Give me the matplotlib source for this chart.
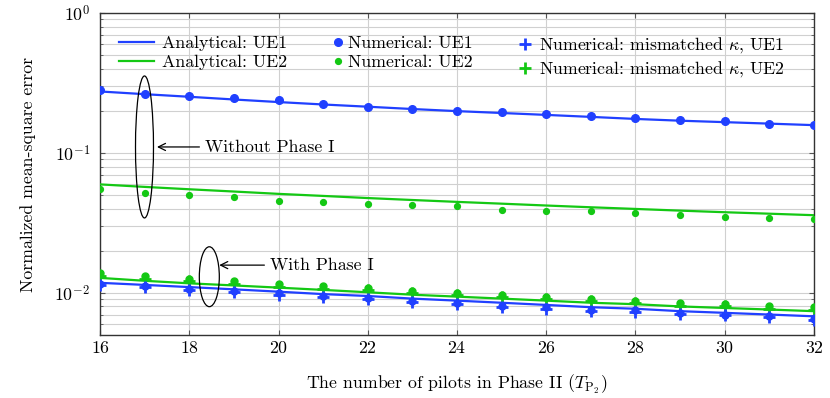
import numpy as np
import matplotlib
matplotlib.use('Agg')
import matplotlib.pyplot as plt
from matplotlib.patches import Ellipse

plt.rcParams['font.family'] = 'serif'
plt.rcParams['font.serif'] = ['cmr10']
plt.rcParams['mathtext.fontset'] = 'cm'
plt.rcParams['axes.formatter.use_mathtext'] = True
plt.rcParams['font.size'] = 12.8

# pilots in phase II
pilots = list(range(16, 33))

# without phase I
ana_ue1 = [0.275, 0.263, 0.252, 0.241, 0.231, 0.222, 0.214, 0.206, 0.199,
           0.193, 0.187, 0.181, 0.175, 0.170, 0.166, 0.162, 0.158]
ana_ue2 = [0.0596, 0.0572, 0.0550, 0.0530, 0.0510, 0.0493, 0.0476, 0.0461, 0.0447,
           0.0434, 0.0421, 0.0409, 0.0398, 0.0387, 0.0377, 0.0368, 0.0359]
num_ue1 = [0.280, 0.262, 0.254, 0.245, 0.238, 0.223, 0.214, 0.207, 0.200,
           0.195, 0.189, 0.183, 0.177, 0.173, 0.169, 0.162, 0.159]
num_ue2 = [0.0550, 0.0518, 0.0498, 0.0488, 0.0454, 0.0449, 0.0430, 0.0423, 0.0419,
           0.0394, 0.0382, 0.0384, 0.0371, 0.0362, 0.0350, 0.0342, 0.0336]

# with phase I
ana_ue1_p1 = [0.0118, 0.0114, 0.0110, 0.0106, 0.0102, 0.0098, 0.0095, 0.0091, 0.0088,
              0.0085, 0.0082, 0.0079, 0.0077, 0.0074, 0.0072, 0.0070, 0.0068]
ana_ue2_p1 = [0.0128, 0.0122, 0.0117, 0.0113, 0.0109, 0.0105, 0.0101, 0.0097, 0.0094,
              0.0091, 0.0088, 0.0085, 0.0083, 0.0080, 0.0078, 0.0076, 0.0074]
num_ue1_p1 = [0.0116, 0.0112, 0.0107, 0.0103, 0.0099, 0.0095, 0.0092, 0.0088, 0.0085,
              0.0081, 0.0079, 0.0076, 0.0075, 0.0072, 0.0070, 0.0068, 0.0065]
num_ue2_p1 = [0.0139, 0.0131, 0.0126, 0.0121, 0.0116, 0.0112, 0.0108, 0.0103, 0.00995,
              0.00968, 0.00937, 0.00907, 0.00882, 0.00846, 0.00836, 0.0080, 0.0079]
mis_ue1_p1 = [0.01133, 0.01096, 0.0105, 0.0101, 0.00973, 0.00933, 0.00904, 0.00865, 0.00836,
              0.00796, 0.0077, 0.00745, 0.00733, 0.00706, 0.0069, 0.00668, 0.0064]
mis_ue2_p1 = [0.0133, 0.0126, 0.0121, 0.0116, 0.0111, 0.0107, 0.0104, 0.0099, 0.0096,
              0.0093, 0.0090, 0.0087, 0.0085, 0.0081, 0.0080, 0.0077, 0.0076]

blue = '#2040ff'
green = '#14c814'

fig = plt.figure(figsize=(8.3, 3.98), dpi=100)
ax = fig.add_axes([0.1205, 0.1583, 0.8602, 0.8090])

l1, = ax.plot(pilots, ana_ue1, color=blue, lw=1.6, zorder=3)
l2, = ax.plot(pilots, ana_ue2, color=green, lw=1.6, zorder=3)
ax.plot(pilots, ana_ue1_p1, color=blue, lw=1.6, zorder=3)
ax.plot(pilots, ana_ue2_p1, color=green, lw=1.6, zorder=3)

m1, = ax.plot(pilots, num_ue1, 'o', color=blue, ms=5.5, zorder=4)
m2, = ax.plot(pilots, num_ue2, 'o', color=green, ms=4.2, zorder=4)
ax.plot(pilots, mis_ue2_p1, '+', color=green, ms=8, mew=2, zorder=4)
ax.plot(pilots, num_ue2_p1, 'o', color=green, ms=5, zorder=5)
ax.plot(pilots, num_ue1_p1, 'o', color=blue, ms=5, zorder=5)
p1, = ax.plot(pilots, mis_ue1_p1, '+', color=blue, ms=8, mew=2, zorder=6)
p2, = ax.plot([], [], '+', color=green, ms=8, mew=2)

ax.set_yscale('log')
ax.set_ylim(5e-3, 1)
ax.set_xlim(16, 32)
ax.set_xticks(range(16, 33, 2))
ax.set_yticks([1e-2, 1e-1, 1])
ax.grid(True, which='major', color='#d0d0d0', lw=0.8)
ax.grid(True, which='minor', axis='y', color='#d0d0d0', lw=0.8)
ax.set_axisbelow(True)
ax.tick_params(which='both', direction='in', top=True, right=True, color='#555555')
ax.tick_params(axis='both', labelsize=12.8)
ax.tick_params(axis='y', pad=7)
for s in ax.spines.values():
    s.set_linewidth(1.0)
    s.set_color('#333333')

ax.set_xlabel('The number of pilots in Phase II ($T_{\\mathrm{P}_2}$)', labelpad=12)
ax.set_ylabel('Normalized mean-square error', labelpad=13)

leg1 = ax.legend([l1, l2], ['Analytical: UE1', 'Analytical: UE2'], loc='upper left',
                 bbox_to_anchor=(0.0266, 0.93), frameon=False, borderpad=0, borderaxespad=0,
                 handlelength=1.97, handletextpad=0.45, labelspacing=0.22)
ax.add_artist(leg1)
leg2 = ax.legend([m1, m2], ['Numerical: UE1', 'Numerical: UE2'], loc='upper left',
                 bbox_to_anchor=(0.3259, 0.93), frameon=False, borderpad=0, borderaxespad=0,
                 handlelength=0.6, handletextpad=0.26, labelspacing=0.22)
ax.add_artist(leg2)
ax.legend([p1, p2], ['Numerical: mismatched $\\kappa$, UE1', 'Numerical: mismatched $\\kappa$, UE2'],
          loc='upper left', bbox_to_anchor=(0.5878, 0.93), frameon=False, borderpad=0,
          borderaxespad=0, handlelength=0.6, handletextpad=0.49, labelspacing=0.22)

ax.add_patch(Ellipse((0.0623, 0.584), 0.0252, 0.441, transform=ax.transAxes,
                     fill=False, lw=0.9, color='black', zorder=7))
ax.add_patch(Ellipse((0.1531, 0.181), 0.028, 0.186, transform=ax.transAxes,
                     fill=False, lw=0.9, color='black', zorder=7))
ax.annotate('Without Phase I', xy=(0.0798, 0.584), xytext=(0.147, 0.584),
            xycoords='axes fraction', textcoords='axes fraction', ha='left', va='center',
            arrowprops=dict(arrowstyle='->', lw=0.9, color='black', shrinkA=2, shrinkB=0))
ax.annotate('With Phase I', xy=(0.167, 0.217), xytext=(0.238, 0.217),
            xycoords='axes fraction', textcoords='axes fraction', ha='left', va='center',
            arrowprops=dict(arrowstyle='->', lw=0.9, color='black', shrinkA=2, shrinkB=0))

fig.savefig('out.png', dpi=100)
